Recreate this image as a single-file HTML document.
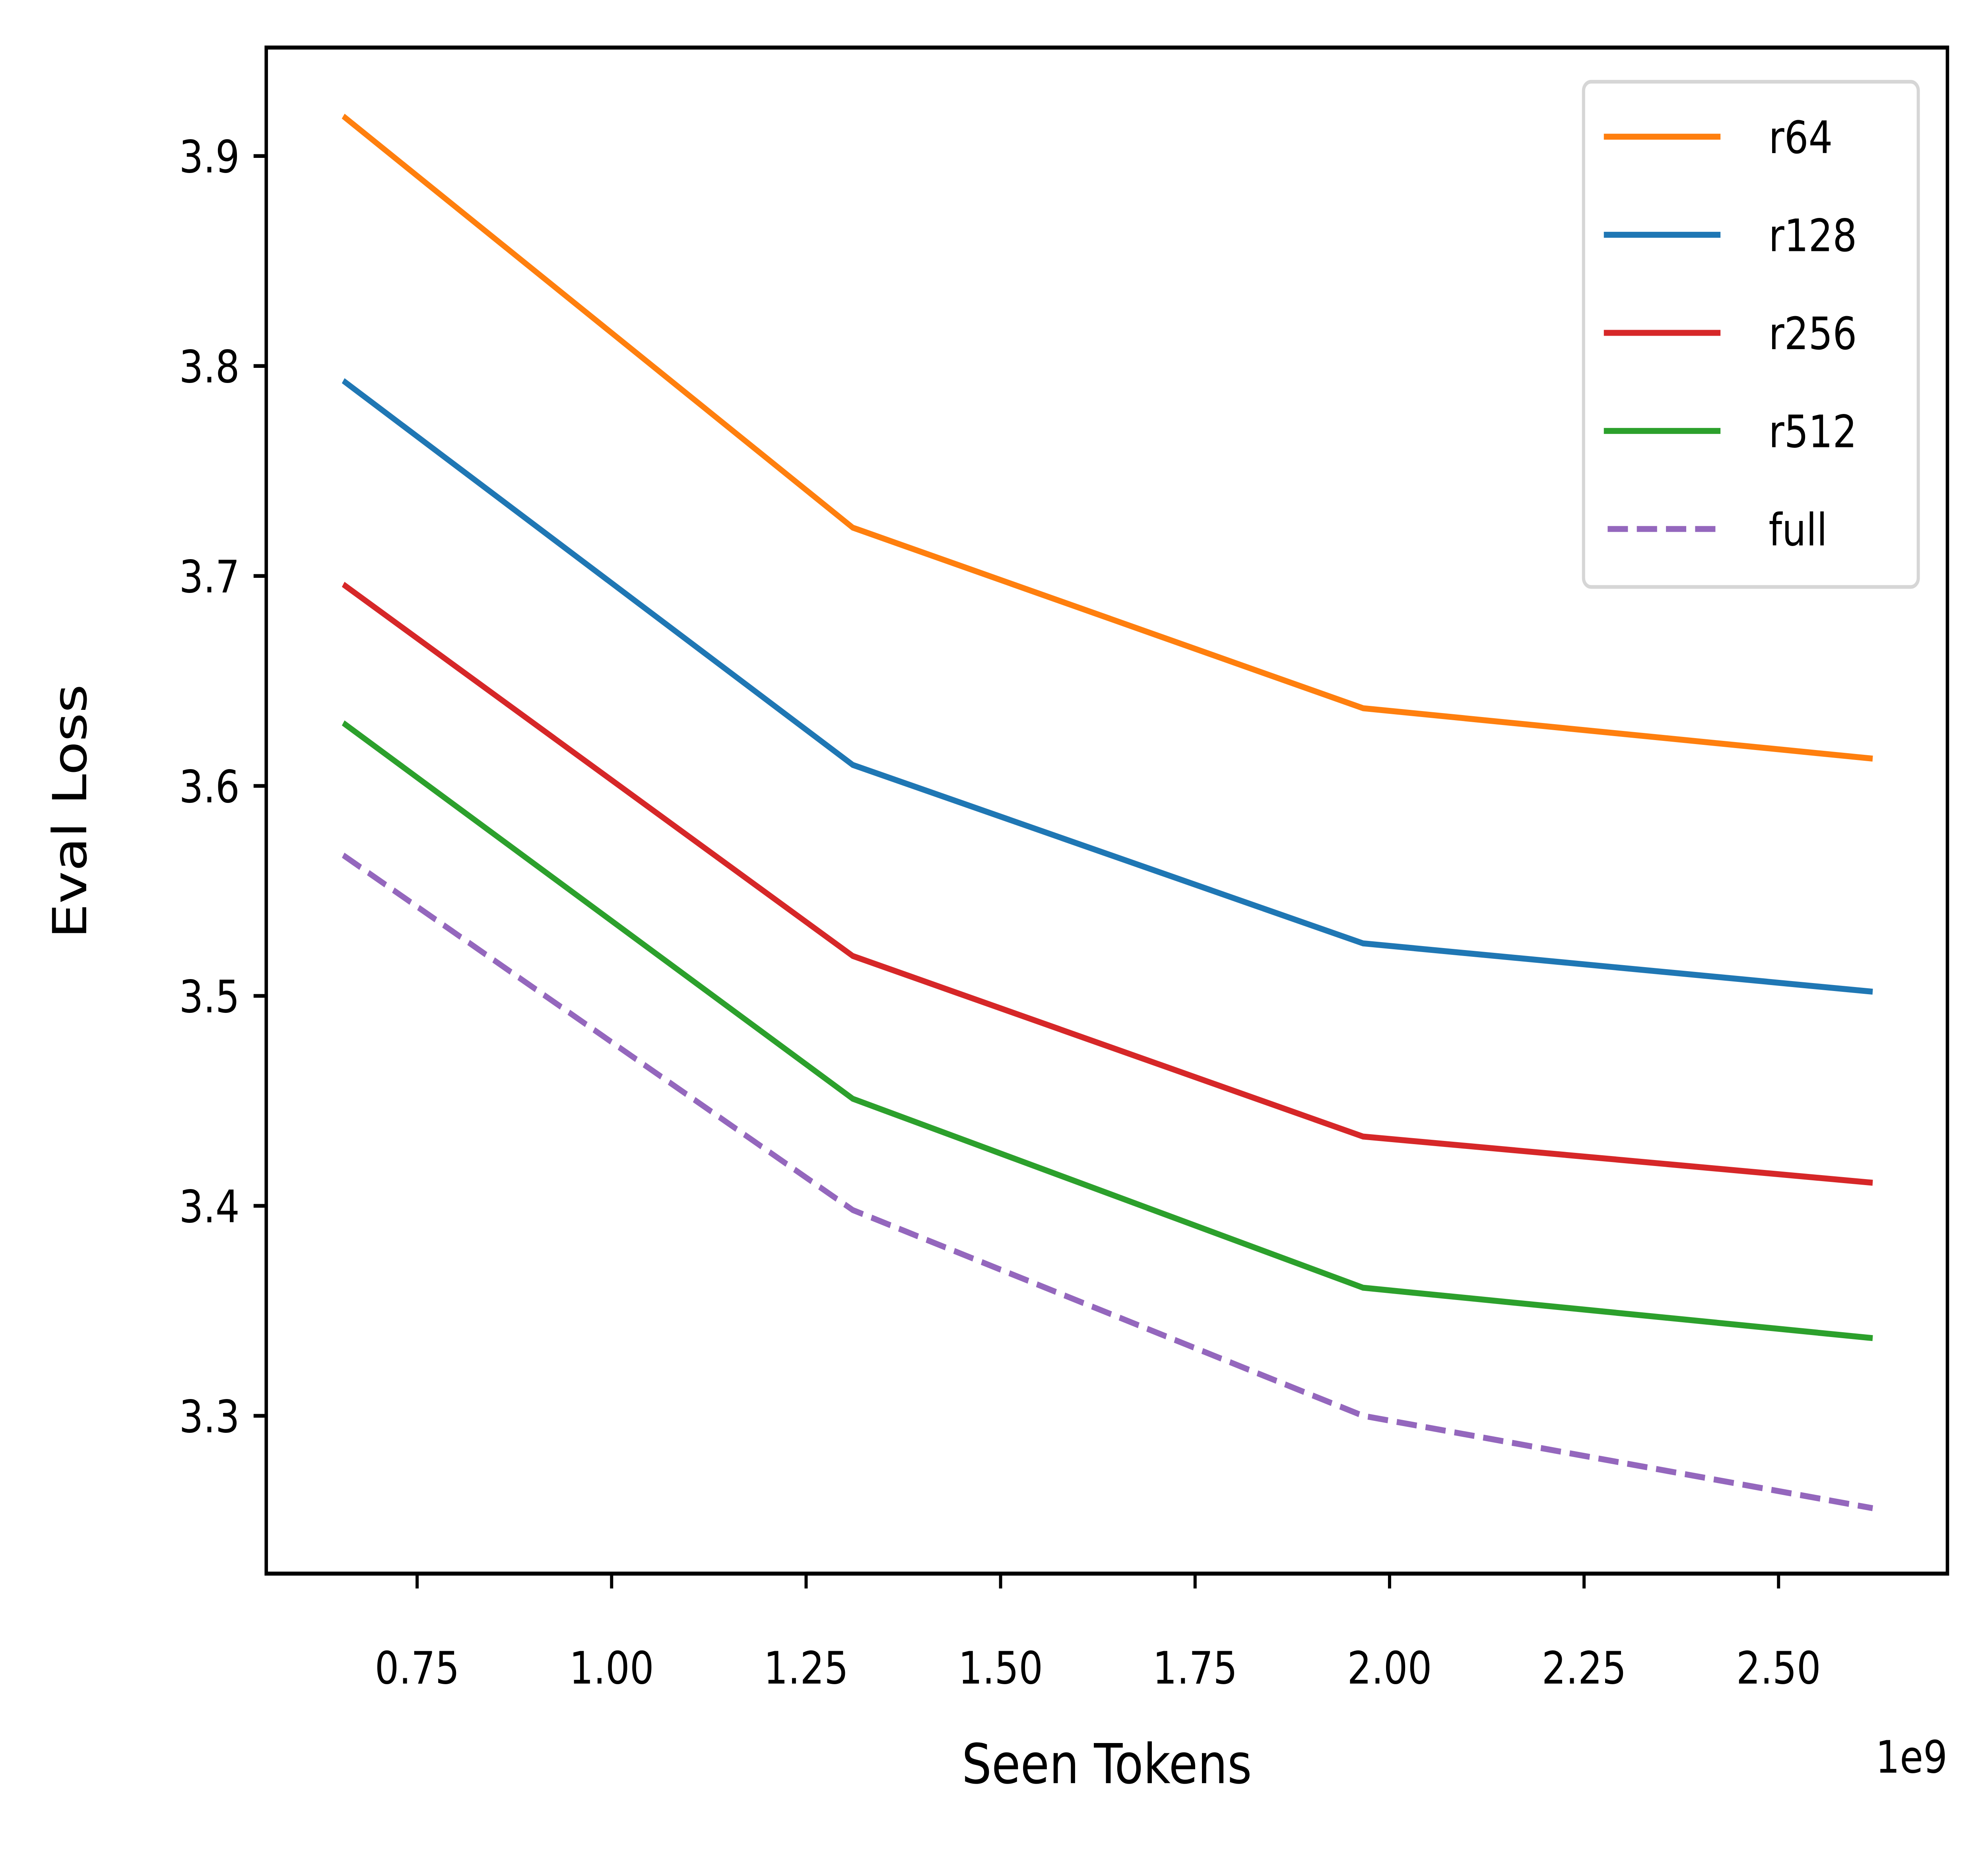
<!DOCTYPE html>
<html><head><meta charset="utf-8"><style>html,body{margin:0;padding:0;background:#fff;overflow:hidden;width:100%;height:100%}svg{display:block;width:100vw;height:100vh}</style></head>
<body>
<svg id="chart" viewBox="0 0 1568 1245" preserveAspectRatio="none" xmlns="http://www.w3.org/2000/svg" font-family="'DejaVu Sans','Liberation Sans',sans-serif">
<rect width="1568" height="1245" fill="#fff"/>
<g id="plot"></g>
<rect x="210" y="32" width="1326" height="1027" fill="none" stroke="#000" stroke-width="2.7"/>
<text x="0" y="0" transform="translate(68,546) rotate(-90)" font-size="37" text-anchor="middle">Eval Loss</text>
<text x="873" y="1200" font-size="37" text-anchor="middle">Seen Tokens</text>
<text x="1536" y="1193" font-size="30" text-anchor="end">1e9</text>
<g>
<rect x="1249" y="55" width="264" height="340" rx="6" fill="#fff" stroke="#d6d6d6" stroke-width="2.5"/>
<g id="legend-items"></g>
</g>
</svg>
<script>
const xValues = [0.655, 1.31, 1.966, 2.621];
const seriesNames = ["r64","r128","r256","r512","full"];
const seriesColors = ["#ff7f0e","#1f77b4","#d62728","#2ca02c","#9467bd"];
const r64 = [3.919, 3.723, 3.637, 3.613];
const r128 = [3.793, 3.610, 3.525, 3.502];
const r256 = [3.696, 3.519, 3.433, 3.411];
const r512 = [3.630, 3.451, 3.361, 3.337];
const full = [3.567, 3.398, 3.300, 3.256];
const xTicks = [0.75, 1.00, 1.25, 1.50, 1.75, 2.00, 2.25, 2.50];
const yTicks = [3.3, 3.4, 3.5, 3.6, 3.7, 3.8, 3.9];

const NS = "http://www.w3.org/2000/svg";
const sx = v => 329 + (v - 0.75) * (153.4 / 0.25);
const sy = v => 105 + (3.9 - v) * 1413;
const plot = document.getElementById('plot');
function mk(tag, attrs){const e=document.createElementNS(NS,tag);for(const k in attrs)e.setAttribute(k,attrs[k]);return e;}

xTicks.forEach(t=>{
  const g=mk('g',{});
  
  
  g.appendChild(mk('line',{x1:sx(t),x2:sx(t),y1:1059,y2:1069,stroke:'#000','stroke-width':2.5}));
  const tx=mk('text',{x:sx(t),y:1133,'font-size':30,'text-anchor':'middle'});
  tx.textContent=t.toFixed(2);
  g.appendChild(tx);
  plot.appendChild(g);
});
yTicks.forEach(t=>{
  const g=mk('g',{});
  
  
  g.appendChild(mk('line',{x1:200,x2:210,y1:sy(t),y2:sy(t),stroke:'#000','stroke-width':2.5}));
  const tx=mk('text',{x:189,y:sy(t)+11,'font-size':30,'text-anchor':'end'});
  tx.textContent=t.toFixed(1);
  g.appendChild(tx);
  plot.appendChild(g);
});
const data=[r64,r128,r256,r512,full];
data.forEach((vals,i)=>{
  const pts=vals.map((v,j)=>sx(xValues[j])+','+sy(v)).join(' ');
  const a={points:pts,fill:'none',stroke:seriesColors[i],'stroke-width':4};
  if(seriesNames[i]==='full')a['stroke-dasharray']='16,7';
  const pl=mk('polyline',a);
  
  
  plot.appendChild(pl);
});
const leg=document.getElementById('legend-items');
seriesNames.forEach((n,i)=>{
  const y=92+i*66;
  const g=mk('g',{});
  
  
  const a={x1:1265,x2:1357,y1:y,y2:y,stroke:seriesColors[i],'stroke-width':4};
  if(n==='full'){a['stroke-dasharray']='16,7';a.x1=1268;}
  g.appendChild(mk('line',a));
  const tx=mk('text',{x:1395,y:y+11,'font-size':30});
  tx.textContent=n;
  g.appendChild(tx);
  leg.appendChild(g);
});
</script>
</body></html>
